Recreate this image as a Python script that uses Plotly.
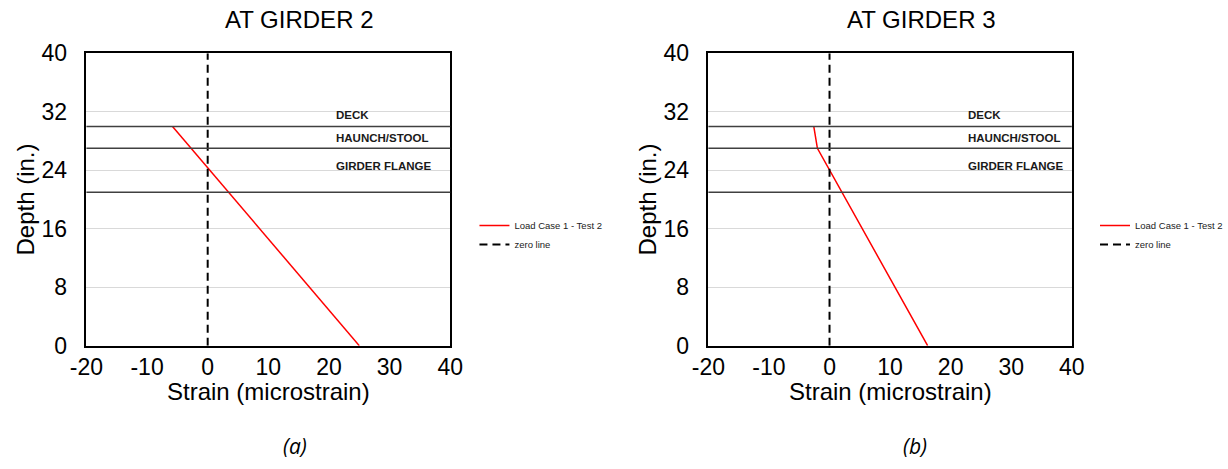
import plotly.graph_objects as go

# Measured strain profiles (microstrain) against depth (in.)
depth_g2 = [30, 0]
strain_g2 = [-5.8, 25.0]

depth_g3 = [30, 27, 0]
strain_g3 = [-2.6, -2.0, 16.2]

zero_depth = [0, 40]
zero_strain = [0, 0]

# Section layer boundaries and their labels
layer_depths = [30, 27, 21]
layer_labels = ["DECK", "HAUNCH/STOOL", "GIRDER FLANGE"]
label_depths = [31.5, 28.4, 24.6]

# Axis ticks
strain_ticks = [-20, -10, 0, 10, 20, 30, 40]
strain_tick_text = ["-20", "-10", "0", "10", "20", "30", "40"]
depth_ticks = [0, 8, 16, 24, 32, 40]

titles = ["AT GIRDER 2", "AT GIRDER 3"]
captions = ["(a)", "(b)"]
series_name = "Load Case 1 - Test 2"
x_title = "Strain (microstrain)"
y_title = "Depth (in.)"

FONT = "Liberation Sans, Arial, sans-serif"
W, H = 1228, 469

fig = go.Figure()

panels = [
    dict(xa="x", ya="y", leg="legend", depth=depth_g2, strain=strain_g2,
         dom=[86.7 / W, 451.7 / W], label_x=20.8, title_x=300 / W,
         cap_x=296 / W, leg_x=476 / W),
    dict(xa="x2", ya="y2", leg="legend2", depth=depth_g3, strain=strain_g3,
         dom=[710.7 / W, 1075.3 / W], label_x=22.5, title_x=924 / W,
         cap_x=918 / W, leg_x=1099 / W),
]

ydom = [1 - 345.7 / H, 1 - 53.3 / H]

for i, p in enumerate(panels):
    fig.add_trace(go.Scatter(
        x=p["strain"], y=p["depth"], mode="lines", name=series_name,
        line=dict(color="#ff0000", width=1.5),
        xaxis=p["xa"], yaxis=p["ya"], legend=p["leg"]))
    fig.add_trace(go.Scatter(
        x=zero_strain, y=zero_depth, mode="lines", name="zero line",
        line=dict(color="black", width=2, dash="8px,5px"),
        xaxis=p["xa"], yaxis=p["ya"], legend=p["leg"]))

    for d in layer_depths:
        fig.add_shape(type="line", xref=f"{p['xa']} domain", yref=p["ya"],
                      x0=0, x1=1, y0=d, y1=d,
                      line=dict(color="#404040", width=1.5))
    for lab, d in zip(layer_labels, label_depths):
        fig.add_annotation(x=p["label_x"], y=d, xref=p["xa"], yref=p["ya"],
                           text=f"<b>{lab}</b>", showarrow=False,
                           xanchor="left", yanchor="middle",
                           font=dict(family=FONT, size=11.5, color="#1a1a1a"))

    # panel title, x-axis title and caption
    fig.add_annotation(x=p["title_x"], y=1 - 20 / H, xref="paper", yref="paper",
                       text=titles[i], showarrow=False, xanchor="center",
                       yanchor="middle", font=dict(family=FONT, size=24, color="black"))
    fig.add_annotation(x=0.5, y=1 - 391 / H, xref=f"{p['xa']} domain", yref="paper",
                       text=x_title, showarrow=False, xanchor="center",
                       yanchor="middle", font=dict(family=FONT, size=24, color="black"))
    fig.add_annotation(x=p["cap_x"], y=1 - 446 / H, xref="paper", yref="paper",
                       text=f"<i>{captions[i]}</i>", showarrow=False, xanchor="center",
                       yanchor="middle", font=dict(family="Open Sans, sans-serif", size=21, color="black"))

axis_common = dict(showline=True, linecolor="black", linewidth=1.5, mirror=True,
                   ticks="", zeroline=False, automargin=False,
                   tickfont=dict(family=FONT, size=23, color="black"))

for i, p in enumerate(panels):
    xkey = "xaxis" if i == 0 else "xaxis2"
    ykey = "yaxis" if i == 0 else "yaxis2"
    fig.update_layout(**{
        xkey: dict(axis_common, domain=p["dom"], range=[-20, 40],
                   tickmode="array", tickvals=strain_ticks, ticktext=strain_tick_text,
                   showgrid=False, anchor=p["ya"]),
        ykey: dict(axis_common, domain=ydom, range=[0, 40],
                   tickmode="array", tickvals=depth_ticks,
                   showgrid=True, gridcolor="#d9d9d9", gridwidth=1,
                   anchor=p["xa"], ticklabelstandoff=13,
                   title=dict(text=y_title, standoff=0,
                              font=dict(family=FONT, size=24, color="black"))),
    })

legend_common = dict(xref="paper", yref="paper", xanchor="left", yanchor="top",
                     y=1 - 211 / H, bgcolor="rgba(0,0,0,0)",
                     font=dict(family=FONT, size=9.5, color="#222222"),
                     tracegroupgap=0, itemwidth=30)

fig.update_layout(
    width=W, height=H,
    margin=dict(l=0, r=0, t=0, b=0),
    paper_bgcolor="white", plot_bgcolor="white",
    legend=dict(legend_common, x=panels[0]["leg_x"]),
    legend2=dict(legend_common, x=panels[1]["leg_x"]),
)

fig.write_html("out.html")
